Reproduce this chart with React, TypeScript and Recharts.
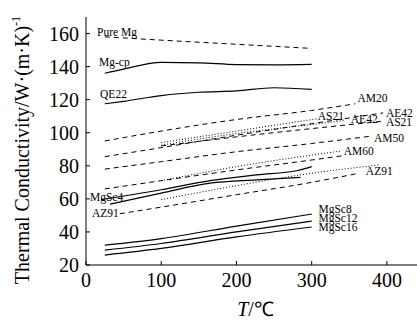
import React from "react"
import { LineChart, Line, XAxis, YAxis, ReferenceDot } from "recharts"

const FONT = "'Liberation Serif', 'Times New Roman', serif"

const xTicks = [0, 100, 200, 300, 400]
const yTicks = [20, 40, 60, 80, 100, 120, 140, 160]

// T (°C) and thermal conductivity pairs
const pureMgT = [25, 100, 200, 300]
const pureMgK = [158, 156, 153.5, 151]
const mgCpT = [25, 50, 100, 150, 200, 250, 300]
const mgCpK = [136, 138.5, 142.6, 142.3, 141.2, 141, 141.3]
const qe22T = [25, 50, 100, 150, 200, 250, 300]
const qe22K = [117.5, 119, 122.5, 124.5, 125.3, 127.2, 126.2]

const am20T = [25, 100, 200, 300, 358]
const am20K = [95, 101, 108, 113.5, 117.5]
const ae42T = [25, 100, 200, 300, 395]
const ae42K = [85.5, 91, 98.5, 105.5, 112]
const as21T = [100, 200, 300, 395]
const as21K = [92, 97.5, 102.5, 107]
const am50T = [25, 100, 200, 300, 380]
const am50K = [78, 82.5, 88.5, 93.5, 98]
const am60T = [25, 100, 200, 300, 340]
const am60K = [66, 71, 77.5, 83.5, 86]
const az91T = [45, 100, 200, 300, 363]
const az91K = [51, 55, 62.5, 70, 75.5]

const as21bT = [100, 200, 308]
const as21bK = [94, 101, 108.5]
const ae42bT = [100, 200, 300, 345]
const ae42bK = [92.5, 99.5, 105, 107.5]
const am60bT = [100, 200, 340]
const am60bK = [71, 79.5, 89]
const az91bT = [100, 200, 300, 390]
const az91bK = [59.5, 68, 75.5, 80.5]

const mgSc4aT = [20, 100, 165, 227, 280, 300]
const mgSc4aK = [59.5, 65.5, 71, 74.5, 77, 79.5]
const mgSc4bT = [32, 100, 165, 227, 285]
const mgSc4bK = [56.8, 63.5, 69.5, 71.5, 73]
const mgSc8T = [25, 100, 200, 300]
const mgSc8K = [32, 36, 43.5, 50.8]
const mgSc12T = [25, 100, 200, 300]
const mgSc12K = [29, 33, 40, 46.5]
const mgSc16T = [25, 100, 200, 300]
const mgSc16K = [26, 30, 37, 43]

// curve labels: text, anchor T, anchor K (baseline)
const noteText = ["Pure Mg", "Mg-cp", "QE22", "MgSc4", "AZ91", "AM20", "AE42", "AS21", "AE42", "AS21", "AM50", "AM60", "AZ91", "MgSc8", "MgSc12", "MgSc16"]
const noteT = [14.7, 17.3, 18.7, 5.3, 8, 361, 398.7, 308, 352, 398.7, 382.7, 342.7, 372, 309, 309, 309]
const noteK = [158.6, 140.5, 121.3, 58.6, 49, 118.3, 109.8, 107.4, 105.6, 103.8, 94.6, 86.7, 74.6, 51.4, 46, 40.5]

const SOLID = ""
const DASH = "5 4"
const DOT = "1 2"

const build = (t: number[], k: number[]) => t.map((x, i) => ({ t: x, k: k[i] }))

const series = [
	{ id: "pureMg", data: build(pureMgT, pureMgK), dash: DASH },
	{ id: "mgCp", data: build(mgCpT, mgCpK), dash: SOLID },
	{ id: "qe22", data: build(qe22T, qe22K), dash: SOLID },
	{ id: "am20", data: build(am20T, am20K), dash: DASH },
	{ id: "ae42", data: build(ae42T, ae42K), dash: DASH },
	{ id: "as21", data: build(as21T, as21K), dash: DASH },
	{ id: "am50", data: build(am50T, am50K), dash: DASH },
	{ id: "am60", data: build(am60T, am60K), dash: DASH },
	{ id: "az91", data: build(az91T, az91K), dash: DASH },
	{ id: "as21b", data: build(as21bT, as21bK), dash: DOT },
	{ id: "ae42b", data: build(ae42bT, ae42bK), dash: DOT },
	{ id: "am60b", data: build(am60bT, am60bK), dash: DOT },
	{ id: "az91b", data: build(az91bT, az91bK), dash: DOT },
	{ id: "mgSc4a", data: build(mgSc4aT, mgSc4aK), dash: SOLID },
	{ id: "mgSc4b", data: build(mgSc4bT, mgSc4bK), dash: SOLID },
	{ id: "mgSc8", data: build(mgSc8T, mgSc8K), dash: SOLID },
	{ id: "mgSc12", data: build(mgSc12T, mgSc12K), dash: SOLID },
	{ id: "mgSc16", data: build(mgSc16T, mgSc16K), dash: SOLID },
]

const noteLabel = (text: string) => (props: any) => {
	const { viewBox } = props
	return (
		<text x={viewBox.x} y={viewBox.y} fontFamily={FONT} fontSize={11.5} fill="#000">
			{text}
		</text>
	)
}

const yLabel = (props: any) => {
	const { viewBox } = props
	const x = viewBox.x + 29
	const y = 150
	return (
		<text x={x} y={y} transform={`rotate(-90, ${x}, ${y})`} textAnchor="middle" fontFamily={FONT} fontSize={20} fill="#000">
			Thermal Conductivity/W·(m·K)
			<tspan fontSize={12} dy={-9}>-1</tspan>
		</text>
	)
}

const xLabel = (props: any) => {
	const { viewBox } = props
	const x = viewBox.x + viewBox.width / 2 + 4
	return (
		<text x={x} y={316} textAnchor="middle" fontFamily={FONT} fontSize={20} fill="#000">
			<tspan fontStyle="italic">T</tspan>/℃
		</text>
	)
}

const XTick = (props: any) => {
	const { x, y, payload } = props
	return (
		<text x={x} y={y} dy="0.71em" textAnchor="middle" fontFamily={FONT} fontSize={20} fill="#000">
			{payload.value}
		</text>
	)
}

const YTick = (props: any) => {
	const { x, y, payload } = props
	return (
		<text x={x} y={y} dy="0.355em" textAnchor="end" fontFamily={FONT} fontSize={20} fill="#000">
			{payload.value}
		</text>
	)
}

export default function App() {
	return (
		<div style={{ position: "absolute", left: 0, top: 0, background: "#fff" }}>
			<LineChart width={417} height={323} margin={{ top: 17, right: 0, left: 0, bottom: 0 }}>
				<XAxis
					type="number"
					dataKey="t"
					domain={[0, 440]}
					ticks={xTicks}
					allowDataOverflow
					height={58}
					tickSize={-4}
					tickMargin={12}
					tick={<XTick />}
					stroke="#000"
					label={{ content: xLabel }}
				/>
				<XAxis
					xAxisId="top"
					orientation="top"
					type="number"
					dataKey="t"
					domain={[0, 440]}
					ticks={xTicks}
					height={0}
					tickSize={-4}
					tick={false}
					stroke="#000"
				/>
				<YAxis
					type="number"
					dataKey="k"
					domain={[20, 170]}
					ticks={yTicks}
					allowDataOverflow
					width={86}
					tickSize={-4}
					tickMargin={11}
					tick={<YTick />}
					stroke="#000"
					label={{ content: yLabel }}
				/>
				{series.map((s) => (
					<Line
						key={s.id}
						data={s.data}
						dataKey="k"
						type="monotone"
						stroke="#000"
						strokeWidth={s.dash === SOLID ? 1.2 : 1}
						strokeDasharray={s.dash || undefined}
						dot={false}
						activeDot={false}
						isAnimationActive={false}
					/>
				))}
				{noteText.map((txt, i) => (
					<ReferenceDot
						key={`note-${i}`}
						x={noteT[i]}
						y={noteK[i]}
						r={0}
						fill="none"
						stroke="none"
						label={noteLabel(txt)}
					/>
				))}
			</LineChart>
		</div>
	)
}
